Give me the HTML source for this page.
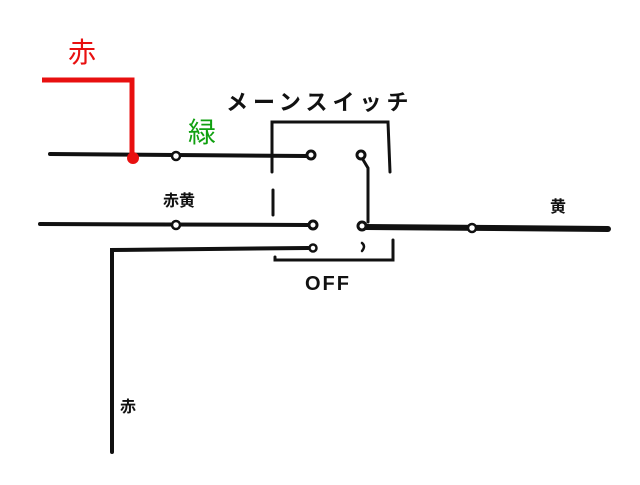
<!DOCTYPE html>
<html><head><meta charset="utf-8"><style>
body{margin:0;background:#fff;width:640px;height:480px;overflow:hidden}
text{font-family:"Liberation Sans","Noto Sans CJK JP",sans-serif;font-weight:bold}
</style></head><body>
<svg width="640" height="480" xmlns="http://www.w3.org/2000/svg">
<g stroke="#111" fill="none" stroke-linecap="round">
<line x1="50" y1="154" x2="306" y2="156" stroke-width="4"/>
<line x1="40" y1="224" x2="308" y2="225" stroke-width="4"/>
<line x1="366" y1="227" x2="608" y2="229" stroke-width="6"/>
<polyline points="112,452 112,250 308,248" stroke-width="4"/>
<polyline points="272,172 272,122 388,122 390,172" stroke-width="3"/>
<line x1="273" y1="190" x2="273" y2="215" stroke-width="3"/>
<polyline points="275,257 275,260 393,260 393,240" stroke-width="3"/>
<polyline points="362,158 368,168 368,222" stroke-width="3"/>
<circle cx="176" cy="156" r="4" fill="#fff" stroke-width="2.5"/>
<circle cx="176" cy="225" r="4" fill="#fff" stroke-width="2.5"/>
<circle cx="472" cy="228" r="4" fill="#fff" stroke-width="2.5"/>
<circle cx="311" cy="155" r="4" fill="#fff" stroke-width="3"/>
<circle cx="361" cy="155" r="4" fill="#fff" stroke-width="3"/>
<circle cx="313" cy="225" r="4" fill="#fff" stroke-width="3"/>
<circle cx="362" cy="226" r="4" fill="#fff" stroke-width="3"/>
<circle cx="313" cy="248" r="3.5" fill="#fff" stroke-width="2.5"/>
<path d="M362 243 q4 3 0 8" stroke-width="2.5"/>
</g>
<polyline points="42,80 132,80 132,158" stroke="#e81010" stroke-width="5" fill="none"/>
<circle cx="133" cy="158" r="6" fill="#e81010"/>
<text x="68" y="62" font-size="28" fill="#e81010" style="font-weight:normal">赤</text>
<text x="188" y="142" font-size="28" fill="#10a010" style="font-weight:normal">緑</text>
<text x="226" y="110" font-size="22" fill="#111" letter-spacing="5">メーンスイッチ</text>
<text x="163" y="206" font-size="16" fill="#111">赤黄</text>
<text x="305" y="290" font-size="20" fill="#111" letter-spacing="2">OFF</text>
<text x="550" y="212" font-size="16" fill="#111">黄</text>
<text x="120" y="412" font-size="16" fill="#111">赤</text>
</svg>
</body></html>
